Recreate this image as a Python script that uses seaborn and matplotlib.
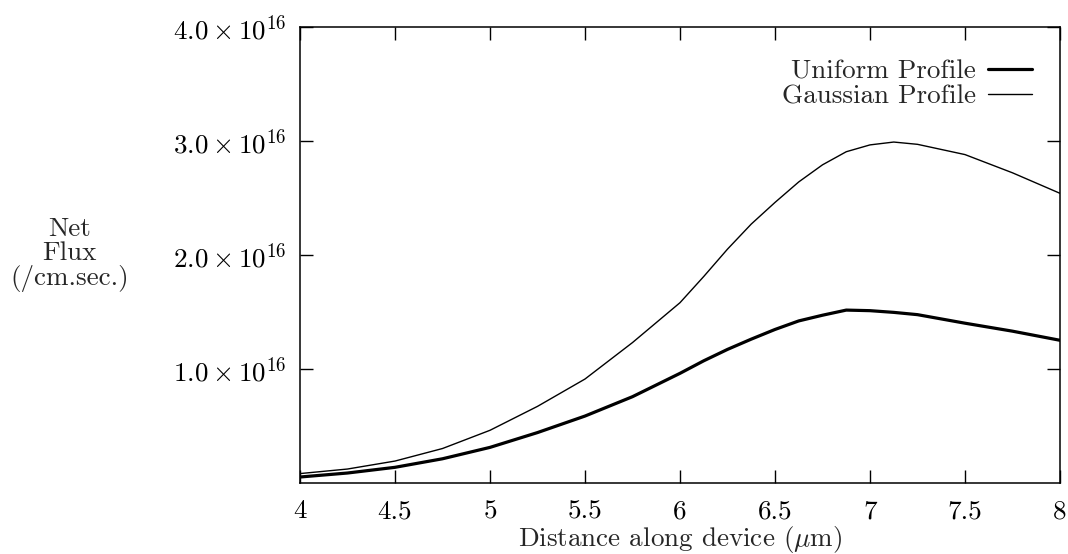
import numpy as np
import pandas as pd
import matplotlib
matplotlib.use("Agg")
import matplotlib.pyplot as plt
import seaborn as sns

# Net flux along the device for two doping profiles (units of 1e16 /cm.sec.)
distance_um = [4.0, 4.25, 4.5, 4.75, 5.0, 5.25, 5.5, 5.75, 6.0, 6.125, 6.25,
               6.375, 6.5, 6.625, 6.75, 6.875, 7.0, 7.125, 7.25, 7.5, 7.75, 8.0]
uniform_flux = [0.05, 0.085, 0.135, 0.21, 0.31, 0.44, 0.585, 0.755, 0.96, 1.07,
                1.17, 1.26, 1.345, 1.42, 1.47, 1.515, 1.51, 1.495, 1.475, 1.40,
                1.33, 1.25]
gaussian_flux = [0.08, 0.12, 0.19, 0.30, 0.46, 0.67, 0.91, 1.23, 1.58, 1.81,
                 2.05, 2.27, 2.46, 2.64, 2.79, 2.905, 2.965, 2.99, 2.97, 2.88,
                 2.72, 2.54]
scale = 1e16

x_ticks = [4, 4.5, 5, 5.5, 6, 6.5, 7, 7.5, 8]
x_tick_labels = ["4", "4.5", "5", "5.5", "6", "6.5", "7", "7.5", "8"]
y_ticks = [1.0, 2.0, 3.0, 4.0]
y_tick_labels = [r"$1.0\times10^{16}$", r"$2.0\times10^{16}$",
                 r"$3.0\times10^{16}$", r"$4.0\times10^{16}$"]

sns.set_theme(style="ticks")
plt.rcParams["font.family"] = ["cmr10", "DejaVu Serif"]
plt.rcParams["mathtext.fontset"] = "cm"
plt.rcParams["axes.formatter.use_mathtext"] = True
plt.rcParams["axes.unicode_minus"] = False

df = pd.DataFrame({
    "x": distance_um * 2,
    "y": [v * scale for v in uniform_flux] + [v * scale for v in gaussian_flux],
    "profile": ["Uniform Profile"] * len(distance_um) + ["Gaussian Profile"] * len(distance_um),
})

fig = plt.figure(figsize=(10.68, 5.54), dpi=100)
ax = fig.add_axes([0.2809, 0.1287, 0.7116, 0.8226])

sns.lineplot(data=df[df.profile == "Uniform Profile"], x="x", y="y",
             color="black", linewidth=2.3, label="Uniform Profile", ax=ax)
sns.lineplot(data=df[df.profile == "Gaussian Profile"], x="x", y="y",
             color="black", linewidth=1.0, label="Gaussian Profile", ax=ax)

ax.set_xlim(4, 8)
ax.set_ylim(0, 4e16)
ax.set_xticks(x_ticks)
ax.set_xticklabels(x_tick_labels)
ax.set_yticks([v * scale for v in y_ticks])
ax.set_yticklabels(y_tick_labels)

fs = 19.5
ax.tick_params(axis="both", direction="in", length=9.5, width=1.0,
               top=True, right=True, labelsize=fs, colors="black")
ax.tick_params(axis="x", pad=12)
ax.tick_params(axis="y", pad=10)
for side in ax.spines.values():
    side.set_linewidth(1.1)
    side.set_color("black")

ax.set_xlabel(r"Distance along device ($\mu$m)", fontsize=fs, labelpad=1)
ax.set_ylabel("Net\nFlux\n(/cm.sec.)", fontsize=fs, rotation=0,
              ha="center", va="center", linespacing=1.0)
ax.yaxis.set_label_coords(-0.303, 0.50)

leg = ax.legend(loc="upper right", frameon=False, markerfirst=False,
                fontsize=fs, handlelength=1.6, handletextpad=0.45,
                labelspacing=0.05, borderaxespad=0.0,
                bbox_to_anchor=(0.977, 0.952))
for t in leg.get_texts():
    t.set_ha("right")

fig.savefig("out.png", dpi=100, facecolor="white")
